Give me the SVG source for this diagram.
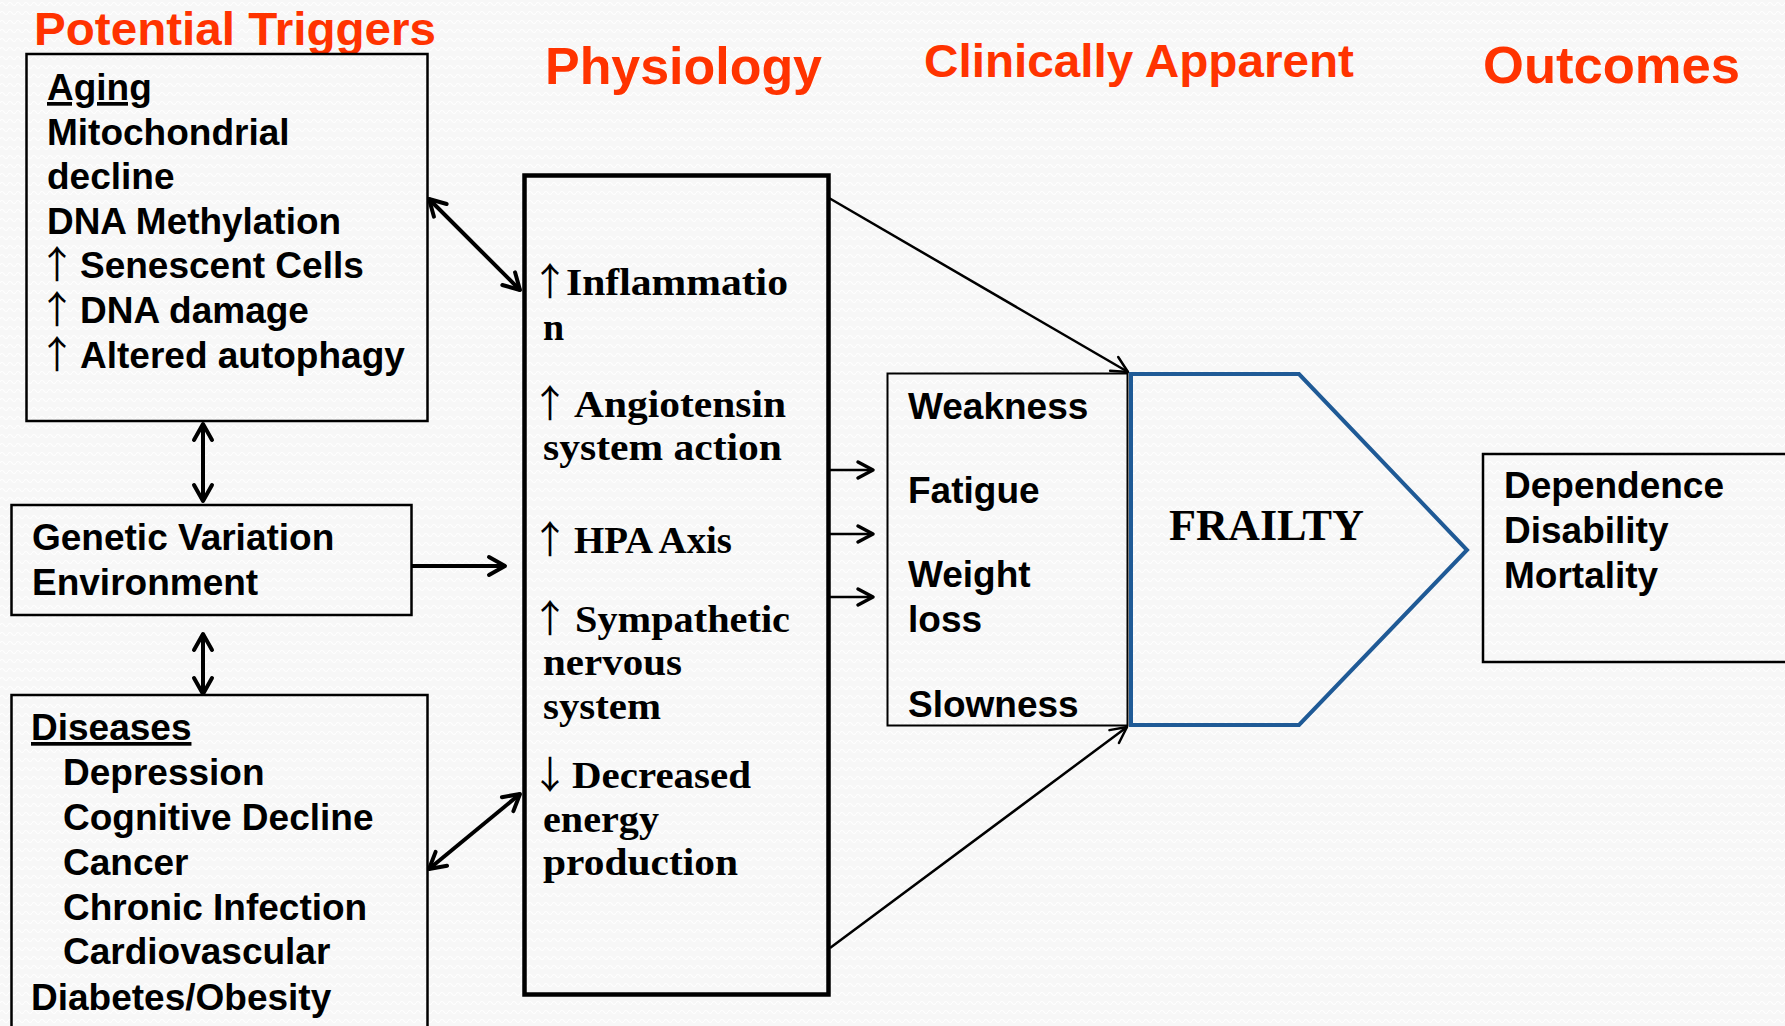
<svg xmlns="http://www.w3.org/2000/svg" width="1785" height="1026" viewBox="0 0 1785 1026">
<style>
.title{font-family:"Liberation Sans",Arial,sans-serif;font-weight:bold;fill:#FF3300}
.sans{font-family:"Liberation Sans",Arial,sans-serif;font-weight:bold;font-size:37px;fill:#000}
.serif{font-family:"Liberation Serif","Times New Roman",serif;font-weight:bold;font-size:38px;fill:#000}
.arr{font-family:"Noto Sans CJK SC","DejaVu Sans",sans-serif;font-weight:normal;font-size:38px;fill:#000}
.box{fill:none;stroke:#000;stroke-width:2.5}
.thick{stroke:#000;stroke-width:4;fill:none}
.thin{stroke:#000;stroke-width:2.5;fill:none}
</style>
<defs>
<pattern id="bg" width="8" height="9" patternUnits="userSpaceOnUse">
<rect width="8" height="9" fill="#F7F7F7"/>
<path d="M0,4 Q2,1 4,4 T8,4" stroke="#FFFFFF" stroke-width="1.2" fill="none"/>
</pattern>
<marker id="hk" viewBox="0 0 24 24" refX="21" refY="12" markerWidth="24" markerHeight="24" markerUnits="userSpaceOnUse" orient="auto-start-reverse">
<path d="M5,3 L21,12 L5,21" fill="none" stroke="#000" stroke-width="4" stroke-linecap="round" stroke-linejoin="round"/>
</marker>
<marker id="hs" viewBox="0 0 24 24" refX="21" refY="12" markerWidth="24" markerHeight="24" markerUnits="userSpaceOnUse" orient="auto">
<path d="M6,4 L21,12 L6,20" fill="none" stroke="#000" stroke-width="3.5" stroke-linecap="round" stroke-linejoin="round"/>
</marker>
<marker id="ht" viewBox="0 0 24 24" refX="21" refY="12" markerWidth="24" markerHeight="24" markerUnits="userSpaceOnUse" orient="auto">
<path d="M5,4 L21,12 L5,20" fill="none" stroke="#000" stroke-width="2.5" stroke-linecap="round" stroke-linejoin="round"/>
</marker>
</defs>
<rect width="1785" height="1026" fill="url(#bg)"/>

<g id="titles">
<text class="title" x="34" y="45" font-size="46" textLength="402" lengthAdjust="spacingAndGlyphs">Potential Triggers</text>
<text class="title" x="545" y="84" font-size="52" textLength="277" lengthAdjust="spacingAndGlyphs">Physiology</text>
<text class="title" x="924" y="77" font-size="47" textLength="430" lengthAdjust="spacingAndGlyphs">Clinically Apparent</text>
<text class="title" x="1483" y="83" font-size="52" textLength="257" lengthAdjust="spacingAndGlyphs">Outcomes</text>
</g>

<g id="connectors">
<line class="thick" x1="429" y1="199" x2="520" y2="290" marker-start="url(#hk)" marker-end="url(#hk)"/>
<line class="thick" x1="429" y1="869" x2="520" y2="794" marker-start="url(#hk)" marker-end="url(#hk)"/>
<line class="thick" x1="203" y1="424" x2="203" y2="501" marker-start="url(#hk)" marker-end="url(#hk)"/>
<line class="thick" x1="203" y1="634" x2="203" y2="694" marker-start="url(#hk)" marker-end="url(#hk)"/>
<line class="thick" x1="412" y1="566" x2="505" y2="566" marker-end="url(#hk)"/>
<line class="thin" x1="828" y1="470" x2="873" y2="470" stroke-width="3" marker-end="url(#hs)"/>
<line class="thin" x1="828" y1="534" x2="873" y2="534" stroke-width="3" marker-end="url(#hs)"/>
<line class="thin" x1="828" y1="597" x2="873" y2="597" stroke-width="3" marker-end="url(#hs)"/>
<line class="thin" x1="829" y1="198" x2="1128" y2="372" marker-end="url(#ht)"/>
<line class="thin" x1="830" y1="948" x2="1127" y2="727" marker-end="url(#ht)"/>
</g>

<g id="aging">
<rect class="box" x="26.5" y="54" width="401" height="367"/>
<text class="sans" x="47" y="100" text-decoration="underline">Aging</text>
<text class="sans" x="47" y="145">Mitochondrial</text>
<text class="sans" x="47" y="189">decline</text>
<text class="sans" x="47" y="234" textLength="294" lengthAdjust="spacingAndGlyphs">DNA Methylation</text>
<text class="sans" x="47" y="278"><tspan class="arr" x="38">↑</tspan><tspan x="80">Senescent Cells</tspan></text>
<text class="sans" x="47" y="323"><tspan class="arr" x="38">↑</tspan><tspan x="80">DNA damage</tspan></text>
<text class="sans" x="47" y="368"><tspan class="arr" x="38">↑</tspan><tspan x="80">Altered autophagy</tspan></text>
</g>

<g id="genetic">
<rect class="box" x="11.5" y="505" width="400" height="110"/>
<text class="sans" x="32" y="550">Genetic Variation</text>
<text class="sans" x="32" y="595">Environment</text>
</g>

<g id="diseases">
<rect class="box" x="11.5" y="695" width="416" height="345"/>
<text class="sans" x="31" y="740" text-decoration="underline">Diseases</text>
<text class="sans" x="63" y="785">Depression</text>
<text class="sans" x="63" y="830">Cognitive Decline</text>
<text class="sans" x="63" y="875">Cancer</text>
<text class="sans" x="63" y="920">Chronic Infection</text>
<text class="sans" x="63" y="964">Cardiovascular</text>
<text class="sans" x="31" y="1010">Diabetes/Obesity</text>
</g>

<g id="physiology">
<rect x="524.5" y="175.5" width="304" height="819" fill="none" stroke="#000" stroke-width="4.5"/>
<text class="serif" x="543" y="295"><tspan class="arr" x="531">↑</tspan><tspan x="566" textLength="222" lengthAdjust="spacingAndGlyphs">Inflammatio</tspan></text>
<text class="serif" x="543" y="340">n</text>
<text class="serif" x="543" y="417"><tspan class="arr" x="531">↑</tspan><tspan x="574" textLength="212" lengthAdjust="spacingAndGlyphs">Angiotensin</tspan></text>
<text class="serif" x="543" y="460" textLength="239" lengthAdjust="spacingAndGlyphs">system action</text>
<text class="serif" x="543" y="553"><tspan class="arr" x="531">↑</tspan><tspan x="574" textLength="158" lengthAdjust="spacingAndGlyphs">HPA Axis</tspan></text>
<text class="serif" x="543" y="632"><tspan class="arr" x="531">↑</tspan><tspan x="575" textLength="215" lengthAdjust="spacingAndGlyphs">Sympathetic</tspan></text>
<text class="serif" x="543" y="675" textLength="139" lengthAdjust="spacingAndGlyphs">nervous</text>
<text class="serif" x="543" y="719" textLength="118" lengthAdjust="spacingAndGlyphs">system</text>
<text class="serif" x="543" y="788"><tspan class="arr" x="531">↓</tspan><tspan x="572" textLength="179" lengthAdjust="spacingAndGlyphs">Decreased</tspan></text>
<text class="serif" x="543" y="832" textLength="116" lengthAdjust="spacingAndGlyphs">energy</text>
<text class="serif" x="543" y="875" textLength="195" lengthAdjust="spacingAndGlyphs">production</text>
</g>

<g id="clinical">
<rect x="887.5" y="373.5" width="240" height="352" fill="none" stroke="#000" stroke-width="2"/>
<text class="sans" x="908" y="419">Weakness</text>
<text class="sans" x="908" y="503">Fatigue</text>
<text class="sans" x="908" y="587">Weight</text>
<text class="sans" x="908" y="632">loss</text>
<text class="sans" x="908" y="717">Slowness</text>
</g>

<g id="frailty">
<polygon points="1131,374 1299,374 1467,550 1299,725 1131,725" fill="none" stroke="#1F5A96" stroke-width="4"/>
<text x="1169" y="540" font-family="Liberation Serif, Times New Roman, serif" font-weight="bold" font-size="45" textLength="195" lengthAdjust="spacingAndGlyphs" fill="#000">FRAILTY</text>
</g>

<g id="outcomes">
<rect class="box" x="1483" y="454" width="320" height="208"/>
<text class="sans" x="1504" y="498">Dependence</text>
<text class="sans" x="1504" y="543">Disability</text>
<text class="sans" x="1504" y="588">Mortality</text>
</g>
</svg>
